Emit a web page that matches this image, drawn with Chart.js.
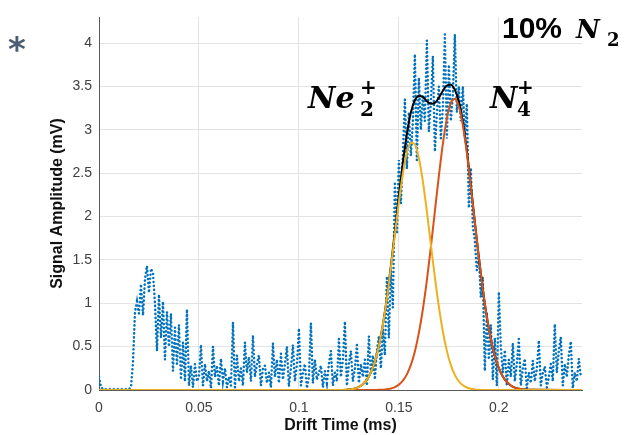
<!DOCTYPE html>
<html><head><meta charset="utf-8">
<script src="https://cdn.jsdelivr.net/npm/chart.js@4.4.0/dist/chart.umd.min.js"></script>
<style>html,body{margin:0;padding:0;background:#fff;}#wrap{width:627px;height:435px;position:relative;}</style>
</head><body><div id="wrap"><canvas id="c" width="627" height="435"></canvas></div>
<script>
// ---- data ----
const sampleInterval = 0.001; // ms between recorded samples
const signalAmplitude = [
 0.15,0.03,0.01,0.01,0.01,0.01,0.01,0.01,0.01,0.01,
 0.01,0.01,0.01,0.01,0.01,0.01,0.03,0.32,0.90,1.02,
 0.88,1.22,0.86,1.28,1.43,1.12,1.40,1.35,1.00,0.45,
 1.10,0.60,1.02,0.35,0.90,0.50,0.88,0.22,0.72,0.30,
 0.75,0.12,0.55,0.10,0.93,0.05,0.28,0.03,0.30,0.10,
 0.15,0.52,0.05,0.30,0.10,0.22,0.02,0.50,0.15,0.28,
 0.05,0.36,0.10,0.25,0.03,0.15,0.05,0.78,0.03,0.40,
 0.10,0.25,0.05,0.55,0.20,0.38,0.10,0.63,0.15,0.30,
 0.40,0.05,0.25,0.28,0.08,0.20,0.03,0.54,0.15,0.35,
 0.08,0.42,0.12,0.30,0.50,0.04,0.25,0.52,0.10,0.30,
 0.71,0.05,0.20,0.30,0.02,0.15,0.77,0.08,0.35,0.12,
 0.20,0.28,0.03,0.22,0.08,0.30,0.45,0.05,0.20,0.10,
 0.59,0.15,0.35,0.79,0.05,0.30,0.45,0.10,0.25,0.52,
 0.08,0.30,0.15,0.35,0.05,0.62,0.20,0.40,0.12,0.45,
 0.62,0.25,0.70,0.40,1.31,0.60,1.38,0.95,2.40,1.80,
 2.65,2.15,2.70,3.35,2.55,3.20,2.70,3.10,3.87,2.65,
 3.60,3.00,3.40,3.10,4.03,2.98,3.30,3.85,2.75,3.20,
 3.50,2.90,3.25,4.10,2.90,3.75,3.10,3.40,4.10,3.20,
 3.50,3.10,3.50,2.90,3.30,2.10,2.56,1.88,1.73,1.38,
 1.55,1.07,1.30,0.22,0.88,0.35,0.75,0.12,0.60,0.05,
 1.13,0.50,0.20,0.46,0.05,0.35,0.15,0.54,0.10,0.30,
 0.59,0.05,0.25,0.36,0.02,0.20,0.08,0.34,0.10,0.25,
 0.57,0.05,0.20,0.27,0.03,0.15,0.30,0.10,0.76,0.20,
 0.45,0.61,0.05,0.30,0.15,0.40,0.56,0.02,0.20,0.10,
 0.36,0.15
];
const fitTime = [0,0.120,0.124,0.126,0.128,0.130,0.132,0.134,0.136,0.138,0.140,0.142,0.144,0.146,0.148,0.150,
 0.152,0.154,0.156,0.158,0.160,0.162,0.164,0.166,0.168,0.170,0.172,0.174,0.176,0.178,0.180,0.182,0.184,0.186,
 0.188,0.190,0.192,0.194,0.196,0.198,0.200,0.202,0.204,0.206,0.208,0.210,0.212,0.214,0.216,0.2416];
const ne2Fit = [0,0,0.004,0.008,0.018,0.035,0.066,0.119,0.203,0.330,0.511,0.753,1.057,1.410,1.793,2.168,
 2.496,2.734,2.851,2.830,2.674,2.405,2.059,1.676,1.301,0.960,0.675,0.451,0.287,0.174,0.100,0.055,0.029,0.014,
 0.007,0.003,0,0,0,0,0,0,0,0,0,0,0,0,0,0];
const n4Fit = [0,0,0,0,0,0,0,0,0,0.001,0.002,0.004,0.009,0.018,0.034,0.062,
 0.108,0.180,0.289,0.445,0.658,0.931,1.265,1.647,2.059,2.468,2.838,3.129,3.310,3.358,3.269,3.052,2.733,2.347,
 1.934,1.529,1.159,0.843,0.588,0.393,0.252,0.155,0.092,0.052,0.028,0.015,0.007,0.004,0.002,0];
const totalFit = [0,0,0.004,0.008,0.018,0.035,0.066,0.119,0.203,0.331,0.513,0.757,1.066,1.428,1.827,2.24,
 2.62,2.95,3.20,3.34,3.39,3.38,3.33,3.30,3.31,3.37,3.45,3.51,3.52,3.46,3.33,3.09,2.76,2.36,
 1.94,1.53,1.16,0.843,0.588,0.393,0.252,0.155,0.092,0.052,0.028,0.015,0.007,0.004,0.002,0];
const xTicks = [0,0.05,0.1,0.15,0.2];
const yTicks = [0,0.5,1,1.5,2,2.5,3,3.5,4];

const signalPts = signalAmplitude.map((v,i)=>({x:+(i*sampleInterval).toFixed(4), y:v}));
const pts = arr => arr.map((v,i)=>({x:fitTime[i], y:v}));

const annot = {
  id:'annot',
  afterDraw(chart){
    const ctx = chart.ctx;
    ctx.save();
    ctx.textBaseline = 'alphabetic';
    ctx.fillStyle = '#4b5d70';
    ctx.font = 'bold 34px "DejaVu Sans"';
    ctx.fillText('*', 8, 61);
    ctx.fillStyle = '#000';
    ctx.font = 'bold 30px "Liberation Sans"';
    ctx.fillText('10%', 502, 38);
    ctx.font = 'bold italic 26px "DejaVu Serif"';
    ctx.fillText('N', 576, 38);
    ctx.font = 'bold 18px "DejaVu Serif"';
    ctx.fillText('2', 607, 46);
    // Ne2+
    ctx.font = 'bold italic 30px "DejaVu Serif"';
    ctx.fillText('Ne', 308, 108);
    ctx.font = 'bold 20px "DejaVu Serif"';
    ctx.fillText('+', 360, 94);
    ctx.fillText('2', 360, 116);
    // N4+
    ctx.font = 'bold italic 30px "DejaVu Serif"';
    ctx.fillText('N', 490, 108);
    ctx.font = 'bold 20px "DejaVu Serif"';
    ctx.fillText('+', 517, 94);
    ctx.fillText('4', 517, 116);
    ctx.restore();
  }
};

const fmt = v => String(Math.round(v*1000)/1000);
const tickFont = {family:'"Liberation Sans", Arial, sans-serif', size:14};
const titleFont = {family:'"Liberation Sans", Arial, sans-serif', size:16, weight:'bold'};

new Chart(document.getElementById('c'), {
  type:'line',
  data:{datasets:[
    {data:pts(ne2Fit), borderColor:'#EDB120', borderWidth:2, pointRadius:0, cubicInterpolationMode:'monotone', order:0},
    {data:pts(n4Fit), borderColor:'#D95319', borderWidth:2, pointRadius:0, cubicInterpolationMode:'monotone', order:1},
    {data:pts(totalFit), borderColor:'#000000', borderWidth:2, pointRadius:0, cubicInterpolationMode:'monotone', order:2},
    {data:signalPts, borderColor:'#0072BD', borderWidth:2.5, borderDash:[0.1,3.9], borderCapStyle:'round', pointRadius:0, tension:0, order:3}
  ]},
  options:{
    responsive:false, animation:false, devicePixelRatio:1,
    layout:{padding:{top:17,right:45,left:0,bottom:0}},
    plugins:{legend:{display:false}, tooltip:{enabled:false}},
    scales:{
      x:{type:'linear', min:0, max:0.2416,
        afterBuildTicks: s => { s.ticks = xTicks.map(v=>({value:v})); },
        ticks:{color:'#404040', font:tickFont, padding:10, maxRotation:0, autoSkip:false, callback:fmt},
        grid:{color:'#e3e3e3', drawTicks:false},
        border:{color:'#5a5a5a', width:1},
        title:{display:true, text:'Drift Time (ms)', color:'#111', font:titleFont, padding:{top:0,bottom:0}},
        afterFit: s => { s.height = 45; }
      },
      y:{type:'linear', min:0, max:4.3,
        afterBuildTicks: s => { s.ticks = yTicks.map(v=>({value:v})); },
        ticks:{color:'#404040', font:tickFont, padding:7, autoSkip:false, callback:fmt},
        grid:{color:'#e3e3e3', drawTicks:false},
        border:{color:'#5a5a5a', width:1},
        title:{display:true, text:'Signal Amplitude (mV)', color:'#111', font:titleFont, padding:{top:48,bottom:0}},
        afterFit: s => { s.width = 99; }
      }
    }
  },
  plugins:[annot]
});
</script></body></html>
